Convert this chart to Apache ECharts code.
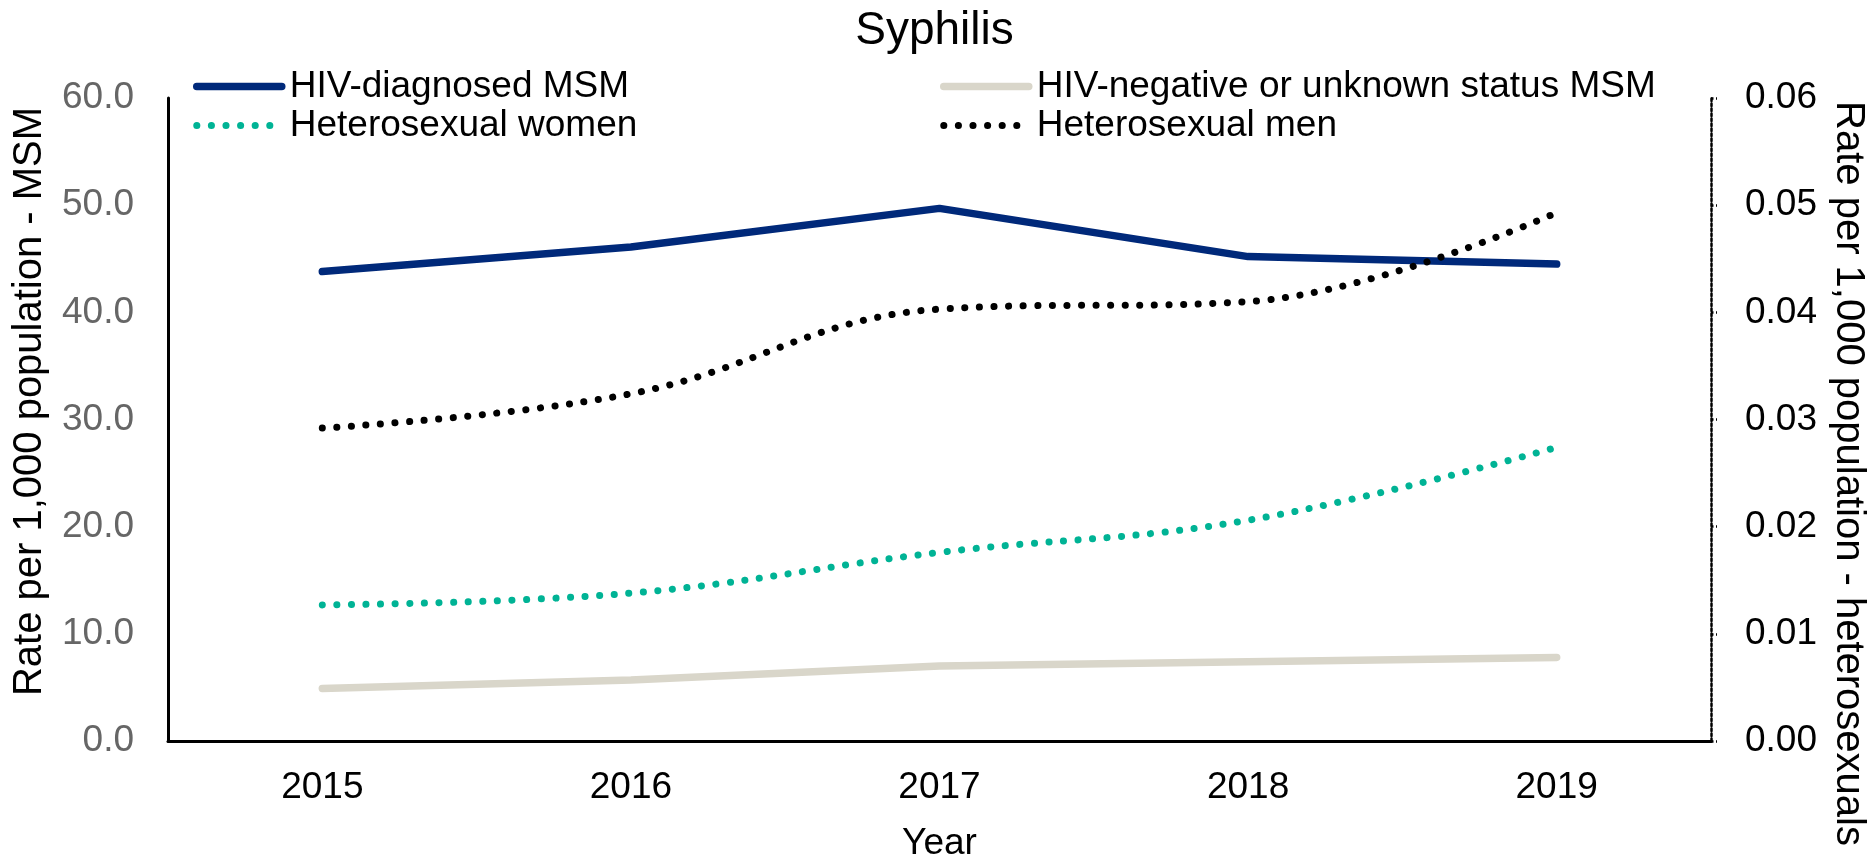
<!DOCTYPE html>
<html>
<head>
<meta charset="utf-8">
<script src="https://cdn.jsdelivr.net/npm/echarts@6/dist/echarts.min.js"></script>
<style>
  html, body { margin: 0; padding: 0; background: #fff; }
  #main { width: 1869px; height: 854px; }
</style>
</head>
<body>
<div id="main"></div>
<script>
// data
var years = ['2015', '2016', '2017', '2018', '2019'];
var hivDiagnosedMsm = [43.8, 46.1, 49.7, 45.2, 44.5];
var hivNegativeMsm = [4.9, 5.7, 7.0, 7.4, 7.8];
var heteroWomen = [0.0127, 0.0138, 0.0176, 0.0206, 0.0274];
var heteroMen = [0.0292, 0.0324, 0.0403, 0.0410, 0.0493];
var leftTicks = [0, 10, 20, 30, 40, 50, 60];
var rightTicks = [0, 0.01, 0.02, 0.03, 0.04, 0.05, 0.06];

var font = 'Liberation Sans, Arial, sans-serif';
var myChart = echarts.init(document.getElementById('main'));

// two legend columns, same look
function legendColumn(names, left) {
    return {
        data: names,
        orient: 'vertical',
        left: left,
        top: 68,
        padding: 0,
        itemWidth: 85,
        itemHeight: 14,
        itemGap: 2,
        itemStyle: {opacity: 0},
        lineStyle: {width: 'inherit'},
        textStyle: {fontFamily: font, fontSize: 37, color: '#000', padding: [0, 0, 0, 3]}
    };
}

var option = {
    animation: false,
    title: {
        text: 'Syphilis',
        left: 'center',
        top: 3,
        textStyle: {fontFamily: font, fontSize: 46, fontWeight: 'normal', color: '#000'}
    },
    legend: [
        legendColumn(['HIV-diagnosed MSM', 'Heterosexual women'], 193),
        legendColumn(['HIV-negative or unknown status MSM', 'Heterosexual men'], 940)
    ],
    grid: {left: 168, right: 158, top: 98, bottom: 113, outerBoundsMode: 'none'},
    xAxis: {
        type: 'category',
        data: years,
        boundaryGap: true,
        name: 'Year',
        nameLocation: 'middle',
        nameGap: 84,
        nameTextStyle: {fontFamily: font, fontSize: 37, color: '#000'},
        axisLine: {lineStyle: {color: '#000', width: 3}},
        axisTick: {show: false},
        axisLabel: {fontFamily: font, fontSize: 37, color: '#000', margin: 28}
    },
    yAxis: [
        {
            type: 'value',
            min: leftTicks[0],
            max: leftTicks[leftTicks.length - 1],
            interval: 10,
            name: 'Rate per 1,000 population - MSM',
            nameLocation: 'middle',
            nameGap: 118,
            nameTextStyle: {fontFamily: font, fontSize: 40, color: '#000', padding: [0, 0, 0, 36]},
            axisLine: {show: true, lineStyle: {color: '#000', width: 3}},
            axisTick: {show: false},
            splitLine: {show: false},
            axisLabel: {
                fontFamily: font, fontSize: 37, color: '#666', margin: 34,
                formatter: function (v) { return v.toFixed(1); }
            }
        },
        {
            type: 'value',
            position: 'right',
            min: rightTicks[0],
            max: rightTicks[rightTicks.length - 1],
            interval: 0.01,
            name: 'Rate per 1,000 population - heterosexuals',
            nameLocation: 'middle',
            nameGap: 110,
            nameRotate: -90,
            nameTextStyle: {fontFamily: font, fontSize: 40, color: '#000', padding: [0, 0, 0, 108]},
            axisLine: {show: true, lineStyle: {color: '#000', width: 2.5, type: [2.5, 2.5]}},
            axisTick: {show: true, length: 6, lineStyle: {color: '#000', width: 2.5, type: [2.5, 2.5]}},
            splitLine: {show: false},
            axisLabel: {
                fontFamily: font, fontSize: 37, color: '#000', margin: 34,
                formatter: function (v) { return v.toFixed(2); }
            }
        }
    ],
    series: [
        {
            name: 'HIV-diagnosed MSM',
            type: 'line',
            data: hivDiagnosedMsm,
            symbol: 'none',
            color: '#00297a',
            lineStyle: {color: '#00297a', width: 7.5, cap: 'round'}
        },
        {
            name: 'HIV-negative or unknown status MSM',
            type: 'line',
            data: hivNegativeMsm,
            symbol: 'none',
            color: '#d9d6ca',
            lineStyle: {color: '#d9d6ca', width: 7.5, cap: 'round'}
        },
        {
            name: 'Heterosexual women',
            type: 'line',
            yAxisIndex: 1,
            data: heteroWomen,
            symbol: 'none',
            smooth: 0.4,
            color: '#00b395',
            lineStyle: {color: '#00b395', width: 7, type: [0.1, 14.5], cap: 'round'}
        },
        {
            name: 'Heterosexual men',
            type: 'line',
            yAxisIndex: 1,
            data: heteroMen,
            symbol: 'none',
            smooth: 0.4,
            color: '#000',
            lineStyle: {color: '#000', width: 7, type: [0.1, 14.5], cap: 'round'}
        }
    ]
};

myChart.setOption(option);
</script>
</body>
</html>
